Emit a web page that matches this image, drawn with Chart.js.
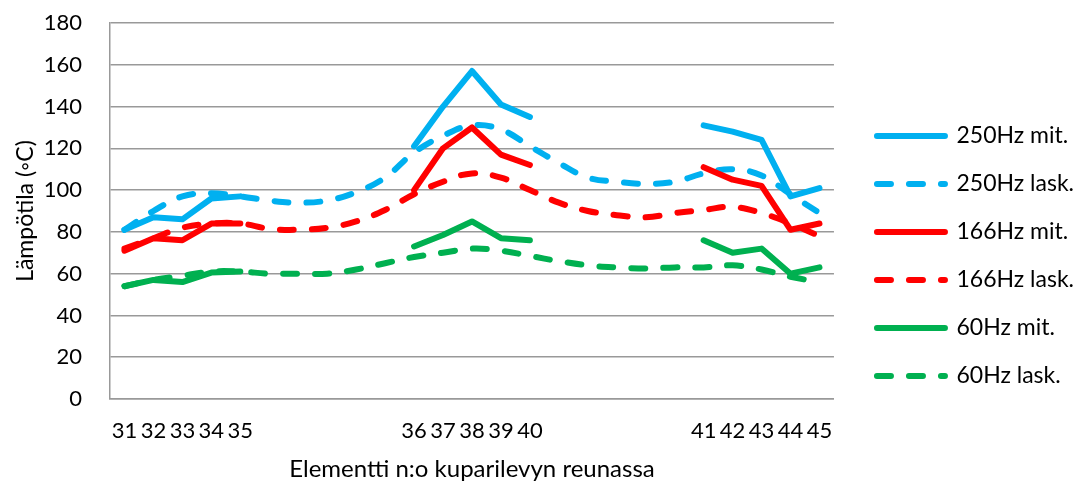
<!DOCTYPE html>
<html>
<head>
<meta charset="utf-8">
<script src="https://cdn.jsdelivr.net/npm/chart.js@4.4.1/dist/chart.umd.min.js"></script>
<style>
  html, body { margin: 0; padding: 0; background: #fff; }
  #wrap { width: 1080px; height: 489px; }
</style>
</head>
<body>
<div id="wrap"><canvas id="c" width="1080" height="489"></canvas></div>
<script>
// Elementit 31-45, välissä tyhjät paikat (laskettu käyrä kulkee niiden läpi)
const elementit = ['31', '32', '33', '34', '35', '', '', '', '', '',
  '36', '37', '38', '39', '40', '', '', '', '', '',
  '41', '42', '43', '44', '45'];

const mit250 = [81, 87, 86, 96, 97, null, null, null, null, null,
  121, 140, 157, 141, 135, null, null, null, null, null,
  131, 128, 124, 97, 101];
const lask250 = [81, 90, 97, 98.5, 97, 95, 94, 95, 99, 106,
  118, 126, 131, 129, 121, 113, 106, 104, 103, 104,
  108, 110, 107, 98, 89];

const mit166 = [71, 77, 76, 84, 84, null, null, null, null, null,
  100, 120, 130, 117, 112, null, null, null, null, null,
  111, 105, 102, 81, 84];
const lask166 = [72, 77, 82, 84, 84, 81.5, 81, 82, 85, 90.5,
  98, 104, 108, 106, 100, 94, 90, 88, 87, 89,
  90.5, 92, 89, 84, 78];

const mit60 = [54, 57, 56, 60.5, 61, null, null, null, null, null,
  73, 78.5, 85, 77, 76, null, null, null, null, null,
  76, 70, 72, 60, 63];
const lask60 = [54, 57, 59, 61, 61, 60, 60, 60, 62, 65,
  68, 70, 72, 71, 68.5, 66, 64, 63, 62.5, 63,
  63, 64, 62, 58.5, 56];

const BLUE = '#00b0f0', RED = '#ff0000', GREEN = '#00b050';

function mitattu(label, data, color, order) {
  return {
    label, data, order,
    borderColor: color, backgroundColor: color,
    borderWidth: 6, borderCapStyle: 'round', borderJoinStyle: 'round',
    pointRadius: 0, pointHoverRadius: 0,
    tension: 0, spanGaps: false
  };
}

function laskettu(label, data, color, order) {
  return {
    label, data, order,
    borderColor: color, backgroundColor: color,
    borderWidth: 6, borderCapStyle: 'round', borderJoinStyle: 'round',
    borderDash: [14, 18],
    pointRadius: 0, pointHoverRadius: 0,
    tension: 0.4
  };
}

Chart.defaults.font.family = 'Lato, "Open Sans", sans-serif';
Chart.defaults.font.size = 22;
Chart.defaults.color = '#000';

// legendan viivat: katkoviiva datasetistä
function legendItems(chart) {
  const items = Chart.defaults.plugins.legend.labels.generateLabels(chart);
  items.forEach(it => {
    const ds = chart.data.datasets[it.datasetIndex];
    it.lineDash = ds.borderDash || [];
    it.lineDashOffset = 0;
    it.lineCap = 'round';
    it.lineWidth = 6;
    it.strokeStyle = ds.borderColor;
  });
  return items.sort((a, b) => a.datasetIndex - b.datasetIndex);
}

new Chart(document.getElementById('c'), {
  type: 'line',
  data: {
    labels: elementit,
    datasets: [
      mitattu('250Hz mit.', mit250, BLUE, 6),
      laskettu('250Hz lask.', lask250, BLUE, 5),
      mitattu('166Hz mit.', mit166, RED, 4),
      laskettu('166Hz lask.', lask166, RED, 3),
      mitattu('60Hz mit.', mit60, GREEN, 2),
      laskettu('60Hz lask.', lask60, GREEN, 1)
    ]
  },
  options: {
    responsive: false,
    animation: false,
    devicePixelRatio: 1,
    layout: { padding: { top: 23, right: -4, bottom: 0, left: 0 } },
    plugins: {
      tooltip: { enabled: false },
      legend: {
        position: 'right',
        align: 'center',
        maxWidth: 260,
        labels: {
          usePointStyle: true,
          pointStyle: 'line',
          pointStyleWidth: 68,
          padding: 25,
          color: '#000',
          font: { size: 23 },
          generateLabels: legendItems
        }
      }
    },
    scales: {
      x: {
        type: 'category',
        offset: true,
        grid: { display: false, drawTicks: false },
        border: { display: true, color: '#999', width: 1.5 },
        ticks: { autoSkip: false, maxRotation: 0, minRotation: 0, padding: 19 },
        title: {
          display: true,
          text: 'Elementti n:o kuparilevyn reunassa',
          font: { size: 24 },
          padding: { top: 11, bottom: 5 }
        },
        afterFit: s => { s.height = 90; }
      },
      y: {
        min: 0, max: 180,
        grid: { color: '#999', lineWidth: 1.5, drawTicks: true, tickLength: 28, tickColor: 'rgba(0,0,0,0)' },
        border: { display: true, color: '#999', width: 1.5 },
        ticks: { stepSize: 20, padding: 0 },
        title: {
          display: true,
          text: 'Lämpötila (◦C)',
          font: { size: 23 },
          padding: { top: 12, bottom: 4 }
        },
        afterFit: s => { s.width = 110; }
      },
      yR: {
        position: 'right',
        display: true,
        grid: { display: false, drawTicks: false },
        border: { display: false },
        ticks: { display: false },
        afterFit: s => { s.width = 18; }
      }
    }
  }
});
</script>
</body>
</html>
